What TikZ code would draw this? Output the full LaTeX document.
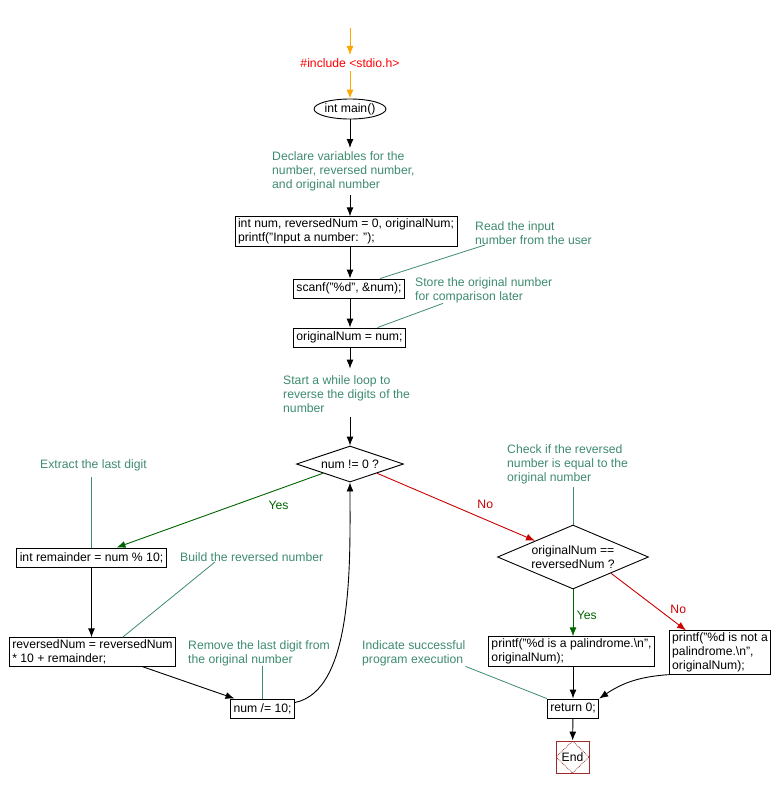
\documentclass[tikz,border=0pt]{standalone}
\usepackage{fontspec}
\setmainfont{Liberation Sans}
\usepackage{xcolor}
\usetikzlibrary{shapes.geometric,arrows.meta}
\definecolor{cmtgreen}{RGB}{62,139,110}
\definecolor{yesgreen}{RGB}{0,100,0}
\definecolor{nored}{RGB}{204,0,0}
\definecolor{incorange}{RGB}{255,165,0}
\definecolor{endred}{RGB}{160,40,40}

\begin{document}
\begin{tikzpicture}[
    x=1pt, y=-1pt,
    font=\fontsize{12.2}{14}\selectfont,
    stmt/.style={
        rectangle, draw, line width=0.9pt, align=left,
        inner xsep=3pt, inner ysep=2pt, minimum height=19pt
    },
    decision/.style={diamond, draw, line width=0.9pt, align=center, inner sep=0pt},
    comment/.style={anchor=north west, inner sep=0pt, align=left, text=cmtgreen},
    note/.style={draw=cmtgreen, line width=0.8pt},
    endbox/.style={
        rectangle, draw=endred, line width=0.9pt, minimum width=33pt, minimum height=32pt, inner sep=0pt,
        path picture={\draw[endred, densely dotted, line width=0.8pt]
            (path picture bounding box.north) -- (path picture bounding box.east) --
            (path picture bounding box.south) -- (path picture bounding box.west) -- cycle;}
    },
    line/.style={draw, -{Latex[length=9pt,width=7pt]}, line width=0.9pt}
]
    \useasboundingbox (0,0) rectangle (777,788);
    % main column
    \coordinate (start) at (350,28);
    \node [text=red] (include) at (350,63) {\#include <stdio.h>};
    \node [ellipse, draw, line width=0.9pt, minimum width=68pt, minimum height=20pt, inner sep=0pt] (main) at (350,109) {int main()};
    \node [comment] (declcmt) at (272,151) {Declare variables for the\\number, reversed number,\\and original number};
    \node [stmt] (decl) at (346,231.5) {int num, reversedNum = 0, originalNum;\\printf("Input a number: ");};
    \node [comment] (readcmt) at (475,221.6) {Read the input\\number from the user};
    \node [stmt] (scan) at (349,288.5) {scanf("\%d", \&num);};
    \node [comment] (storecmt) at (415,277.6) {Store the original number\\for comparison later};
    \node [stmt] (orig) at (349.5,337.5) {originalNum = num;};
    \node [comment] (loopcmt) at (283,375.6) {Start a while loop to\\reverse the digits of the\\number};
    \node [decision, aspect=3, minimum width=107pt, minimum height=36pt] (cond) at (350,464) {num != 0 ?};
    % loop body
    \node [comment] (extractcmt) at (40,459.6) {Extract the last digit};
    \node [stmt] (remainder) at (91.5,557.5) {int remainder = num \% 10;};
    \node [comment] (buildcmt) at (180,552.6) {Build the reversed number};
    \node [stmt] (reversed) at (92.5,652) {reversedNum = reversedNum\\* 10 + remainder;};
    \node [comment] (removecmt) at (188,640.6) {Remove the last digit from\\the original number};
    \node [stmt] (divide) at (262.5,708.5) {num /= 10;};
    % palindrome check
    \node [comment] (checkcmt) at (507,444.6) {Check if the reversed\\number is equal to the\\original number};
    \node [decision, aspect=2.36, minimum width=151pt, minimum height=64pt] (palcheck) at (573,557) {originalNum ==\\reversedNum ?};
    \node [stmt] (palyes) at (571.5,651.5) {printf("\%d is a palindrome.\textbackslash n",\\originalNum);};
    \node [stmt] (palno) at (720,652.5) {printf("\%d is not a\\palindrome.\textbackslash n",\\originalNum);};
    \node [comment] (indcmt) at (362,640.6) {Indicate successful\\program execution};
    \node [stmt] (retn) at (573,708.5) {return 0;};
    \node [endbox] (endn) at (572.5,757) {End};

    \path [line, incorange] (start) -- (include);
    \path [line, incorange] (include) -- (main);
    \path [line] (main) -- ([yshift=3pt]declcmt.north -| main.south);
    \path [line] ([yshift=-4pt]declcmt.south -| main.south) -- (main.south |- decl.north);
    \path [line] (decl.south -| main.south) -- (main.south |- scan.north);
    \path [line] (scan.south -| main.south) -- (main.south |- orig.north);
    \path [line] (orig.south -| main.south) -- ([yshift=7pt]loopcmt.north -| main.south);
    \path [line] ([yshift=-4pt]loopcmt.south -| main.south) -- (cond.north);
    \path [line, yesgreen] (cond.south west) -- node[pos=.215, yshift=-16pt] {Yes} ([xshift=25pt]remainder.north);
    \path [line, nored] (cond.south east) -- node[pos=.685, yshift=15pt] {No} (palcheck.north west);
    \path [line] (remainder) -- (remainder |- reversed.north);
    \path [line] ([xshift=50pt]reversed.south) -- ([xshift=-28pt]divide.north);
    \path [line] ([yshift=6pt]divide.east) .. controls +(59,-12) and +(0,78) .. (cond.south);
    \path [line, yesgreen] (palcheck) -- node[right, yshift=-2pt] {Yes} (palcheck |- palyes.north);
    \path [line, nored] (palcheck.south east) -- node[pos=.63, xshift=20pt] {No} ([xshift=-34pt]palno.north);
    \path [line] (palyes.south -| retn) -- (retn);
    \path [line] (palno.south west) to[bend right=15] (retn.north east);
    \path [line] (retn) -- (endn);
    % comment leaders
    \path [note] ([xshift=10pt]readcmt.south west) -- ([xshift=31pt]scan.north);
    \path [note] ([xshift=28pt]storecmt.south west) -- ([xshift=28pt]orig.north);
    \path [note] ([yshift=-6pt]extractcmt.south -| remainder.north) -- (remainder.north);
    \path [note] ([xshift=35pt]buildcmt.south west) -- ([xshift=30pt]reversed.north);
    \path [note] (removecmt.south -| divide.north) -- (divide.north);
    \path [note] ([yshift=-3pt]checkcmt.south -| palcheck.north) -- (palcheck.north);
    \path [note] (indcmt.south east) -- (retn.north west);
\end{tikzpicture}
\end{document}
